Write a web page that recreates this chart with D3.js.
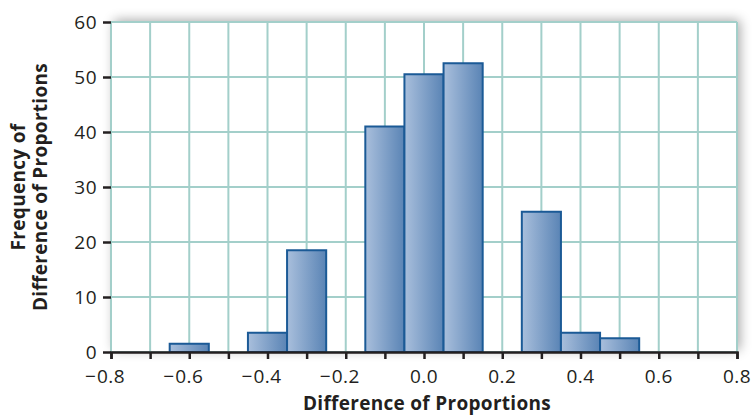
<!DOCTYPE html>
<html>
<head>
<meta charset="utf-8">
<script src="https://cdn.jsdelivr.net/npm/d3@7"></script>
<style>
  body { margin: 0; background: #fff; }
  svg text { font-family: "Open Sans", "Noto Sans", sans-serif; fill: #231f20; }
</style>
</head>
<body>
<div id="chart"></div>
<script>
/**
 * DATA
 * */
const binCenters = [-0.6, -0.4, -0.3, -0.1, 0.0, 0.1, 0.3, 0.4, 0.5];
const frequencies = [1.5, 3.5, 18.5, 41, 50.5, 52.5, 25.5, 3.5, 2.5];
const binWidth = 0.1;
const xTicks = [-0.8, -0.6, -0.4, -0.2, 0.0, 0.2, 0.4, 0.6, 0.8];
const yTicks = [0, 10, 20, 30, 40, 50, 60];

/**
 * CONSTANTS
 * */
const width = 752,
  height = 418,
  margin = { top: 22, bottom: 66, left: 111, right: 15 };

const innerW = width - margin.left - margin.right,
  innerH = height - margin.top - margin.bottom;

const x = d3.scaleLinear().domain([-0.8, 0.8]).range([0, innerW]);
const y = d3.scaleLinear().domain([0, 60]).range([innerH, 0]);

const svg = d3.select("#chart")
  .append("svg")
  .attr("width", width)
  .attr("height", height);

const defs = svg.append("defs");

const shadow = defs.append("filter")
  .attr("id", "shadow")
  .attr("x", "-10%").attr("y", "-20%")
  .attr("width", "120%").attr("height", "140%");
shadow.append("feGaussianBlur").attr("in", "SourceAlpha").attr("stdDeviation", 6);
shadow.append("feOffset").attr("dx", 3).attr("dy", -2).attr("result", "blur");
shadow.append("feComponentTransfer").append("feFuncA").attr("type", "linear").attr("slope", 0.35);

const grad = defs.append("linearGradient")
  .attr("id", "barFill")
  .attr("x1", "0%").attr("x2", "100%")
  .attr("y1", "0%").attr("y2", "0%");
grad.append("stop").attr("offset", "0%").attr("stop-color", "#a9bfdc");
grad.append("stop").attr("offset", "100%").attr("stop-color", "#5a84b5");

const g = svg.append("g")
  .attr("transform", `translate(${margin.left},${margin.top})`);

// plot background with soft shadow
g.append("rect")
  .attr("width", innerW).attr("height", innerH)
  .attr("fill", "#000")
  .attr("filter", "url(#shadow)");
g.append("rect")
  .attr("width", innerW).attr("height", innerH)
  .attr("fill", "#fff");

// grid lines
g.selectAll(".vgrid")
  .data(d3.range(-8, 9).map(d => d / 10))
  .join("line")
  .attr("class", "vgrid")
  .attr("x1", d => x(d)).attr("x2", d => x(d))
  .attr("y1", 0).attr("y2", innerH)
  .attr("stroke", "#a3cfca")
  .attr("stroke-width", 2);

g.selectAll(".hgrid")
  .data(yTicks)
  .join("line")
  .attr("class", "hgrid")
  .attr("x1", 0).attr("x2", innerW)
  .attr("y1", d => y(d)).attr("y2", d => y(d))
  .attr("stroke", "#a3cfca")
  .attr("stroke-width", 2);

// bars
g.selectAll(".bar")
  .data(binCenters.map((c, i) => ({ c, f: frequencies[i] })))
  .join("rect")
  .attr("class", "bar")
  .attr("x", d => x(d.c - binWidth / 2))
  .attr("width", d => x(d.c + binWidth / 2) - x(d.c - binWidth / 2))
  .attr("y", d => y(d.f))
  .attr("height", d => y(0) - y(d.f))
  .attr("fill", "url(#barFill)")
  .attr("stroke", "#1b5a96")
  .attr("stroke-width", 2);

// x axis (labels drawn separately so the minus sign hangs to the left)
const xAxis = g.append("g")
  .attr("transform", `translate(0,${innerH})`)
  .call(d3.axisBottom(x)
    .tickValues(d3.range(-8, 9).map(d => d / 10))
    .tickSize(7)
    .tickFormat(""));
xAxis.select(".domain").attr("stroke", "#231f20").attr("stroke-width", 2.5);
xAxis.selectAll(".tick line").attr("stroke", "#231f20").attr("stroke-width", 2.5);

const xLabels = g.append("g")
  .attr("transform", `translate(0,${innerH + 31})`)
  .selectAll("g")
  .data(xTicks)
  .join("g")
  .attr("transform", d => `translate(${x(d)},0)`);

xLabels.append("text")
  .attr("class", "num")
  .attr("text-anchor", "middle")
  .attr("font-size", 19)
  .attr("letter-spacing", 0.5)
  .text(d => d3.format(".1f")(Math.abs(d)));

xLabels.filter(d => d < 0)
  .append("text")
  .attr("text-anchor", "end")
  .attr("font-size", 19)
  .attr("x", function () {
    const w = this.parentNode.querySelector(".num").getComputedTextLength();
    return -w / 2 - 1;
  })
  .text("\u2212");

// y axis
const yAxis = g.append("g")
  .call(d3.axisLeft(y).tickValues(yTicks).tickSize(8).tickPadding(6));
yAxis.select(".domain").remove();
yAxis.selectAll(".tick line").attr("stroke", "#231f20").attr("stroke-width", 2.5);
yAxis.selectAll("text")
  .attr("font-size", 19)
  .attr("letter-spacing", 0.5)
  .attr("fill", "#231f20");

// axis titles
svg.append("text")
  .attr("x", margin.left + innerW / 2 + 3)
  .attr("y", 410)
  .attr("text-anchor", "middle")
  .attr("font-size", 19)
  .attr("letter-spacing", 0.3)
  .attr("font-weight", "bold")
  .text("Difference of Proportions");

const yTitle = svg.append("text")
  .attr("transform", `translate(0,${margin.top + innerH / 2}) rotate(-90)`)
  .attr("text-anchor", "middle")
  .attr("font-size", 19)
  .attr("letter-spacing", 0.3)
  .attr("font-weight", "bold");
yTitle.append("tspan").attr("x", 0).attr("y", 25).text("Frequency of");
yTitle.append("tspan").attr("x", 0).attr("y", 47).text("Difference of Proportions");
</script>
</body>
</html>
